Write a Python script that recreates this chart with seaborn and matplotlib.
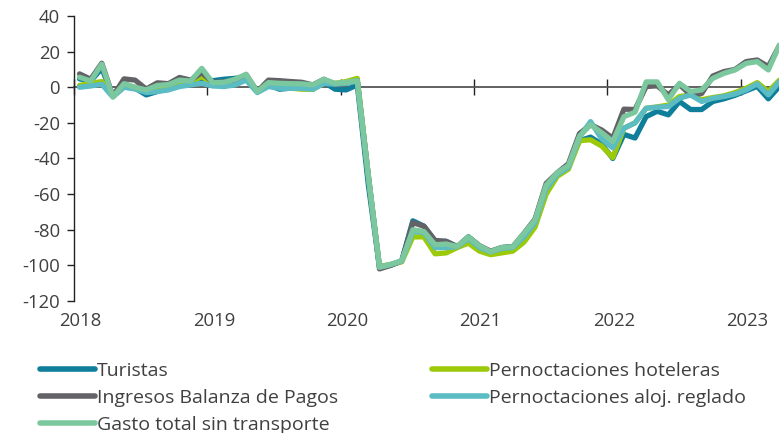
import numpy as np
import pandas as pd
import matplotlib
matplotlib.use("Agg")
import matplotlib.pyplot as plt
import seaborn as sns
from matplotlib.lines import Line2D

# ---- data (monthly, Jan 2018 .. Apr 2023, % change) ----
months = pd.date_range("2018-01-01", "2023-04-01", freq="MS")
year_labels = ["2018", "2019", "2020", "2021", "2022", "2023"]
y_ticks = [40, 20, 0, -20, -40, -60, -80, -100, -120]

turistas = [4.7, 3.5, 10.6, -5, 2, -0.5, -4.3, -2.4, -0.5, 2, 3, 5,
            3.7, 4.5, 5, 6, -2.4, 1.3, -1.1, -0.5, -0.5, -1.1, 2.8, -1.1,
            -1.5, 1.3, -55, -101, -100, -97.5, -75, -78, -86.5, -86.5, -89.5, -84,
            -89, -92.5, -90, -89.5, -83, -75, -56, -48.5, -44, -30, -28, -32,
            -40, -26.5, -28.5, -16.5, -13.5, -15.5, -8, -12.5, -12.5, -8, -6.5, -4.5,
            -2, 0.5, -6.5, 0.5]
hoteleras = [1, 2.2, 3.2, -4, 0.4, 0, -2.4, -1.5, -0.5, 2, 2.8, 6,
             2.2, 2, 2.2, 5, -2.4, 2.2, 0.7, -0.5, -1.1, -1.1, 2.2, 2.2,
             3.2, 5, -50, -100.5, -99.5, -98, -84, -84, -93.5, -93, -90, -87.5,
             -92, -94, -93, -92, -87, -78.5, -60, -50, -46, -30, -29.5, -33,
             -39.5, -23, -20, -11.8, -11, -10, -5.2, -4.3, -7, -5.8, -4.8, -3,
             -0.6, 2.6, -2.4, 4]
ingresos = [7.5, 4.5, 13.5, -5, 4.7, 4, -1, 2.5, 2, 5.5, 4, 8.2,
            2.8, 3, 4, 7, -2.4, 4, 3.7, 3.2, 2.8, 1.3, 4.5, 1.3,
            2.2, 3.7, -50, -102, -100, -97.5, -76, -78, -86, -86.5, -89.5, -84,
            -89, -92, -90, -89.5, -82, -74, -54, -48, -43, -26, -21, -24,
            -28.6, -12.3, -12.5, 0.4, 0.8, -4.3, 1.5, -4.3, -3.5, 6.3, 8.8, 10,
            14.4, 15.3, 11.6, 23.5]
reglado = [0, 0.7, 1.7, -5.5, 0, -1, -3, -2.4, -1.5, 0.4, 1.3, 2.2,
           0.7, 0.4, 1.3, 4, -3, 0.4, -0.6, -0.6, -0.6, -1.1, 2.2, 1.7,
           2.2, 3.5, -50, -101, -99.5, -97.5, -81, -81.5, -90, -90, -89.5, -85,
           -90, -92.5, -90.5, -90, -84, -76, -57, -49, -45, -28, -19.3, -29,
           -34, -23, -20, -11.8, -11.2, -10.8, -6.2, -4.3, -8, -6.2, -5.2, -3.8,
           -1.5, 1.9, -4.3, 3.2]
gasto = [5.6, 3.5, 13, -5.4, 2, 0, -1.5, 1, 1.5, 4, 3.5, 10.6,
         2.5, 2.8, 4.5, 7.3, -2.4, 2.6, 2.2, 2, 1.9, 1.3, 4.5, 2.2,
         2.8, 3.7, -50, -101, -99.5, -97.5, -80, -81, -88.4, -88, -89.4, -84,
         -89, -92.3, -90, -89.5, -82, -74.5, -55, -48, -44, -27.5, -21, -25.5,
         -30.5, -16.5, -14, 3.0, 3.0, -7, 2.2, -2.4, -1.5, 5, 7.8, 9.7,
         13.4, 14.4, 9.7, 23.7]

series = [
    ("Turistas", turistas, "#0e7e9a"),
    ("Pernoctaciones hoteleras", hoteleras, "#9cc90a"),
    ("Ingresos Balanza de Pagos", ingresos, "#636266"),
    ("Pernoctaciones aloj. reglado", reglado, "#5bbcc3"),
    ("Gasto total sin transporte", gasto, "#7cc89e"),
]

sns.set_theme(style="white")
plt.rcParams["font.family"] = ["Open Sans", "DejaVu Sans"]
plt.rcParams["axes.unicode_minus"] = False
plt.rcParams["text.color"] = "#404040"

TXT = "#404040"
fig = plt.figure(figsize=(7.79, 4.33), dpi=100)
W, H = 779, 433
x0, x1 = 74, 785
ytop, ybot = 16, 301
ax = fig.add_axes([x0 / W, 1 - ybot / H, (x1 - x0) / W, (ybot - ytop) / H])
ax.set_facecolor("none")

pos = np.arange(len(months)) + 0.5
for name, vals, col in series:
    df = pd.DataFrame({"x": pos, "y": vals})
    sns.lineplot(data=df, x="x", y="y", ax=ax, color=col, linewidth=3.8,
                 solid_joinstyle="round", solid_capstyle="round", legend=False,
                 zorder=3)

ax.set_xlim(0, len(months))
ax.set_ylim(-120, 40)
ax.set_xlabel("")
ax.set_ylabel("")

for s in ["top", "right"]:
    ax.spines[s].set_visible(False)
ax.spines["left"].set_color("#222222")
ax.spines["left"].set_linewidth(1.0)
ax.spines["bottom"].set_position(("data", 0))
ax.spines["bottom"].set_color("#555555")
ax.spines["bottom"].set_linewidth(1.3)
ax.spines["bottom"].set_zorder(1)

ax.set_yticks(y_ticks)
ax.set_yticklabels([str(v) for v in y_ticks])
ax.tick_params(axis="y", direction="out", length=5, width=1, color="#222222",
               labelsize=13.3, labelcolor=TXT, pad=5, left=True)

ax.set_xticks([12 * k for k in range(len(year_labels))])
ax.tick_params(axis="x", direction="inout", length=11, width=1, color="#222222",
               labelbottom=False, bottom=True)

sec = ax.secondary_xaxis(0.0)
sec.set_xticks([12 * k + 0.6 for k in range(len(year_labels))])
sec.set_xticklabels(year_labels)
sec.tick_params(length=0, labelsize=13.3, labelcolor=TXT, pad=8)
sec.spines["bottom"].set_visible(False)

def handle(col):
    return Line2D([], [], color=col, linewidth=4, solid_capstyle="round")

lk = dict(frameon=False, handlelength=2.85, handletextpad=0.1, labelspacing=0.45,
          borderaxespad=0, borderpad=0, prop={"size": 14})
left_items = [series[0], series[2], series[4]]
right_items = [series[1], series[3]]
leg1 = fig.legend([handle(c) for _, _, c in left_items], [n for n, _, _ in left_items],
                  loc="upper left", bbox_to_anchor=(40 / W, 1 - 362 / H), **lk)
leg2 = fig.legend([handle(c) for _, _, c in right_items], [n for n, _, _ in right_items],
                  loc="upper left", bbox_to_anchor=(432 / W, 1 - 362 / H), **lk)

fig.savefig("out.png", dpi=100)
